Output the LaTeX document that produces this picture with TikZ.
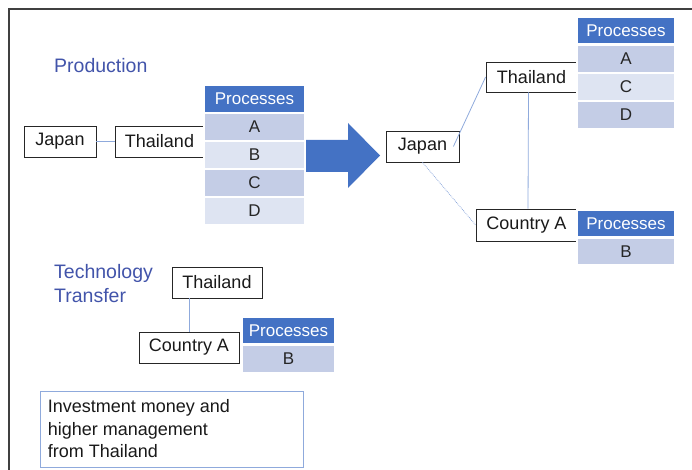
\documentclass[tikz,border=0pt]{standalone}
\usepackage{fontspec}
\setmainfont{Liberation Sans}
\definecolor{hdr}{RGB}{68,114,196}
\definecolor{rowdark}{RGB}{196,205,230}
\definecolor{rowlight}{RGB}{222,228,242}
\definecolor{ttl}{RGB}{66,84,170}
\definecolor{lnk}{RGB}{143,170,220}
\definecolor{frm}{RGB}{64,64,64}
\tikzset{
  cbox/.style={draw=black!85, line width=0.8pt, rectangle, inner sep=0pt, font=\fontsize{18}{18}\selectfont, text=black!90},
  cell/.style={rectangle, inner sep=0pt, draw=white, line width=1.2pt, minimum height=27pt, font=\fontsize{17}{17}\selectfont, text=black!85},
  hcell/.style={cell, fill=hdr, text=white},
  dcell/.style={cell, fill=rowdark},
  lcell/.style={cell, fill=rowlight},
  title/.style={anchor=west, align=left, inner sep=0pt, text=ttl, font=\fontsize{19.5}{24}\selectfont},
  link/.style={draw=lnk, line width=0.8pt},
}
\begin{document}
\begin{tikzpicture}[x=1pt,y=-1pt]
\useasboundingbox (0,0) rectangle (692,470);
% frame
\draw[frm, line width=1.5pt] (9,470) -- (9,9) -- (692,9);

% Production
\node[title] (prod) at (54,66) {Production};
\node[cbox, minimum width=72pt, minimum height=31pt] (jp1) at (60,141.5) {Japan};
\node[cbox, minimum width=89pt, minimum height=31pt] (th1) at (159.5,141.5) {Thailand};
\draw[link] (jp1) -- (th1);
\begin{scope}[every node/.append style={minimum width=101pt}]
\node[hcell] (t1h) at (254.5,99) {Processes};
\node[dcell] (t1a) at (254.5,127) {A};
\node[lcell] (t1b) at (254.5,155) {B};
\node[dcell] (t1c) at (254.5,183) {C};
\node[lcell] (t1d) at (254.5,211) {D};
\end{scope}

% big arrow
\fill[hdr] (306,140) -- (348,140) -- (348,123) -- (380,155.5) -- (348,188) -- (348,172) -- (306,172) -- cycle;

% right side
\node[cbox, minimum width=73pt, minimum height=31pt] (jp2) at (422.5,146.5) {Japan};
\node[cbox, minimum width=91pt, minimum height=30pt] (th2) at (531.5,77) {Thailand};
\node[cbox, minimum width=101pt, minimum height=32pt] (ca2) at (526.5,225) {Country A};
\draw[link] ([xshift=-6pt]jp2.east) -- (th2.west);
\draw[link] ([xshift=-3pt]th2.south) -- ([xshift=1.5pt]ca2.north);
\draw[link, densely dotted] (jp2.south) -- (ca2.west);
\begin{scope}[every node/.append style={minimum width=98pt}]
\node[hcell] (t2h) at (626,30.5) {Processes};
\node[dcell] (t2a) at (626,59) {A};
\node[lcell] (t2c) at (626,87) {C};
\node[dcell] (t2d) at (626,115) {D};
\node[hcell] (t3h) at (626,223.5) {Processes};
\node[dcell] (t3b) at (626,251.5) {B};
\end{scope}

% Technology transfer
\node[title] (tech) at (54,284) {Technology\\Transfer};
\node[cbox, minimum width=90pt, minimum height=31pt] (th3) at (217,282.5) {Thailand};
\node[cbox, minimum width=100pt, minimum height=31pt] (ca3) at (189,347.5) {Country A};
\draw[link] (ca3.north |- th3.south) -- (ca3.north);
\begin{scope}[every node/.append style={minimum width=93pt}]
\node[hcell] (t4h) at (288.5,330.5) {Processes};
\node[dcell] (t4b) at (288.5,359) {B};
\end{scope}

% note
\node[draw=lnk, line width=0.8pt, rectangle, inner sep=0pt, minimum width=263pt, minimum height=76pt] (note) at (171.5,429) {};
\node[anchor=west, align=left, inner sep=0pt, text=black!90, font=\fontsize{18}{22.5}\selectfont] (notetxt) at ([xshift=8pt]note.west) {Investment money and\\higher management\\from Thailand};
\end{tikzpicture}
\end{document}
